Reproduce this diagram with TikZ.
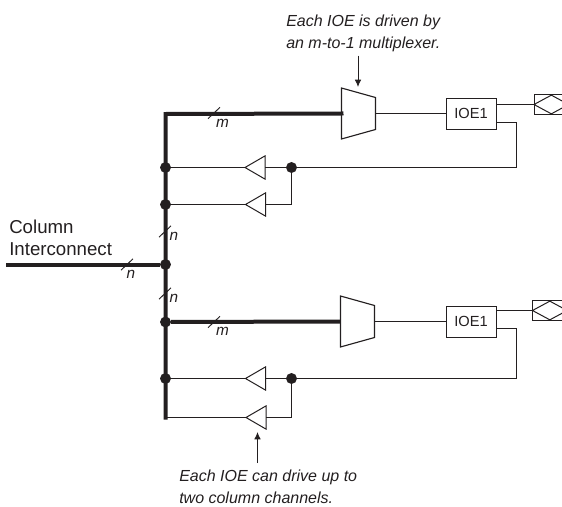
\documentclass[tikz,border=0pt]{standalone}
\usepackage{fontspec}
\setmainfont{Liberation Sans}
\usepackage{xcolor}
\definecolor{Ink}{RGB}{35,31,32}
\usetikzlibrary{shapes.geometric}
\usetikzlibrary{arrows.meta}
\tikzstyle{Wire}=[draw=Ink,line width=.75pt]
\tikzstyle{Bus}=[draw=Ink,line width=3pt]
\tikzstyle{Tick}=[draw=Ink,line width=.7pt]
\tikzstyle{Note}=[-{Latex[length=5.5pt,width=5pt]},draw=Ink,line width=.7pt]
\tikzstyle{Dot}=[circle,fill=Ink,inner sep=0pt,minimum size=8.2pt]
\tikzstyle{Mux}=[trapezium,draw=Ink,line width=.85pt,rotate=-90,
outer sep=0pt,trapezium left angle=74.4,trapezium right angle=74.4,
inner xsep=12pt,inner ysep=12.75pt,text width=0pt]
\tikzstyle{Ioe}=[rectangle,draw=Ink,line width=.75pt,inner sep=0pt,outer sep=0pt,
minimum width=37.5pt,minimum height=23.25pt,text=Ink,font=\fontsize{11}{13}\selectfont]
\tikzstyle{Buf}=[isosceles triangle,draw=Ink,line width=.75pt,inner sep=0pt,
outer sep=0pt,shape border rotate=180,isosceles triangle stretches,
minimum width=17.4pt,minimum height=15pt,anchor=apex]
\tikzstyle{PadBox}=[rectangle,draw=Ink,line width=.75pt,inner sep=0pt,outer sep=0pt,
minimum width=30pt,minimum height=14.4pt,anchor=west]
\tikzstyle{PadDia}=[diamond,draw=Ink,line width=.75pt,inner sep=0pt,outer sep=0pt,
minimum width=26pt,minimum height=14pt,anchor=west]
\tikzstyle{Label}=[text=Ink,inner sep=0pt,font=\fontsize{14}{16}\selectfont,anchor=base west]
\tikzstyle{Remark}=[text=Ink,inner sep=0pt,font=\fontsize{12}{14}\selectfont\itshape,anchor=base west]
\tikzstyle{Width}=[text=Ink,inner sep=0pt,font=\fontsize{11.5}{13}\selectfont\itshape]
\begin{document}
\begin{tikzpicture}[x=.75pt,y=-.75pt]
            \useasboundingbox (0,0) rectangle (562,507);
            % junctions on the main column
            \node[Dot](j1)at(165.5,167.5){};
            \node[Dot](j2)at(165.5,204.5){};
            \node[Dot](j3)at(165.5,264.5){};
            \node[Dot](j4)at(165.5,322.0){};
            \node[Dot](j5)at(165.5,378.5){};
            \coordinate(top)at(165.5,114.0);
            \coordinate(bot)at(165.5,417.5);
            \coordinate(in)at(6.0,264.5);
            % upper half
            \node[Mux](mux1)at(358.5,113.5){};
            \node[Ioe](ioe1)at(471.0,113.5){IOE1};
            \node[PadBox](box1)at(534.0,104.5){};
            \node[PadDia](dia1)at(534.0,104.5){};
            \node[Buf](buf1)at(245.0,167.5){};
            \node[Buf](buf2)at(245.5,204.5){};
            \node[Dot](tap1)at(291.5,167.5){};
            \coordinate(bend1)at(516.5,122.5);
            % lower half
            \node[Mux](mux2)at(357.5,321.5){};
            \node[Ioe](ioe2)at(471.0,321.5){IOE1};
            \node[PadBox](box2)at(532.5,310.5){};
            \node[PadDia](dia2)at(532.5,310.5){};
            \node[Buf](buf3)at(245.5,378.5){};
            \node[Buf](buf4)at(246.0,417.5){};
            \node[Dot](tap2)at(291.5,378.5){};
            \coordinate(bend2)at(516.5,328.5);
            %
            \draw[Bus](in)--(j3);
            \draw[Bus,line cap=rect](mux1.south)--(top)--(bot);
            \draw[Bus](j4)--(mux2.south);
            %
            \draw[Wire](mux1.north)--(ioe1.west);
            \draw[Wire](box1.west-|ioe1.east)--(box1.west);
            \draw[Wire](bend1-|ioe1.east)--(bend1)|-(tap1);
            \draw[Wire](tap1)--(buf1.lower side);
            \draw[Wire](tap1)|-(buf2.lower side);
            \draw[Wire](buf1.apex)--(j1);
            \draw[Wire](buf2.apex)--(j2);
            %
            \draw[Wire](mux2.north)--(ioe2.west);
            \draw[Wire](box2.west-|ioe2.east)--(box2.west);
            \draw[Wire](bend2-|ioe2.east)--(bend2)|-(tap2);
            \draw[Wire](tap2)--(buf3.lower side);
            \draw[Wire](tap2)|-(buf4.lower side);
            \draw[Wire](buf3.apex)--(j5);
            \draw[Wire](buf4.apex)--(bot);
            % bus width marks
            \foreach \x/\y in {127/264.5,165/231.5,165/293.5,214/322,214/113}
                \draw[Tick](\x-6,\y+5.7)--(\x+6,\y-5.7);
            \node[Width](w1)at(131.0,274.5){n};
            \node[Width](w2)at(174.0,236.5){n};
            \node[Width](w3)at(174.0,298.5){n};
            \node[Width](w4)at(222.5,331.0){m};
            \node[Width](w5)at(222.5,123.5){m};
            % texts
            \node[Label](col1)at(9.0,233.0){Column};
            \node[Label](col2)at(9.0,255.5){Interconnect};
            \node[Remark](rem1)at(286.0,26.0){Each IOE is driven by};
            \node[Remark](rem2)at(286.0,48.0){an m-to-1 multiplexer.};
            \node[Remark](rem3)at(179.0,481.0){Each IOE can drive up to};
            \node[Remark](rem4)at(179.0,503.0){two column channels.};
            \coordinate(from1)at(358.0,55.5);
            \coordinate(from2)at(257.5,463.0);
            \draw[Note](from1)--(358.0,87.0);
            \draw[Note](from2)--(257.5,432.0);
\end{tikzpicture}
\end{document}
